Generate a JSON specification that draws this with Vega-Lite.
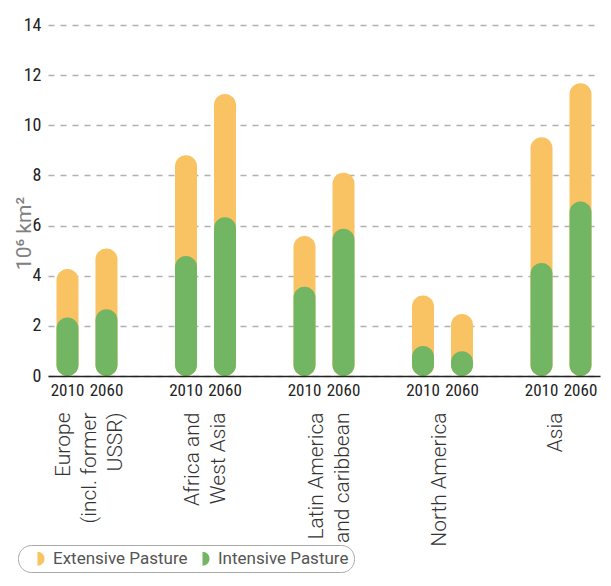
{
  "$schema": "https://vega.github.io/schema/vega-lite/v6.json",
  "width": 552,
  "height": 351,
  "autosize": {"type": "none"},
  "padding": {"left": 48, "top": 25, "right": 11, "bottom": 210},
  "background": "white",
  "config": {"view": {"stroke": null}, "font": "Roboto"},
  "data": {
    "values": [
      {"region": "Europe (incl. former USSR)", "year": "2010", "type": "Extensive Pasture", "value": 4.27},
      {"region": "Europe (incl. former USSR)", "year": "2060", "type": "Extensive Pasture", "value": 5.09},
      {"region": "Africa and West Asia", "year": "2010", "type": "Extensive Pasture", "value": 8.8},
      {"region": "Africa and West Asia", "year": "2060", "type": "Extensive Pasture", "value": 11.25},
      {"region": "Latin America and caribbean", "year": "2010", "type": "Extensive Pasture", "value": 5.58},
      {"region": "Latin America and caribbean", "year": "2060", "type": "Extensive Pasture", "value": 8.11},
      {"region": "North America", "year": "2010", "type": "Extensive Pasture", "value": 3.21},
      {"region": "North America", "year": "2060", "type": "Extensive Pasture", "value": 2.47},
      {"region": "Asia", "year": "2010", "type": "Extensive Pasture", "value": 9.52},
      {"region": "Asia", "year": "2060", "type": "Extensive Pasture", "value": 11.68},
      {"region": "Europe (incl. former USSR)", "year": "2010", "type": "Intensive Pasture", "value": 2.33},
      {"region": "Europe (incl. former USSR)", "year": "2060", "type": "Intensive Pasture", "value": 2.66},
      {"region": "Africa and West Asia", "year": "2010", "type": "Intensive Pasture", "value": 4.79},
      {"region": "Africa and West Asia", "year": "2060", "type": "Intensive Pasture", "value": 6.33},
      {"region": "Latin America and caribbean", "year": "2010", "type": "Intensive Pasture", "value": 3.56},
      {"region": "Latin America and caribbean", "year": "2060", "type": "Intensive Pasture", "value": 5.87},
      {"region": "North America", "year": "2010", "type": "Intensive Pasture", "value": 1.2},
      {"region": "North America", "year": "2060", "type": "Intensive Pasture", "value": 0.99},
      {"region": "Asia", "year": "2010", "type": "Intensive Pasture", "value": 4.51},
      {"region": "Asia", "year": "2060", "type": "Intensive Pasture", "value": 6.96}
    ]
  },
  "encoding": {
    "x": {
      "field": "region",
      "type": "nominal",
      "sort": ["Europe (incl. former USSR)", "Africa and West Asia", "Latin America and caribbean", "North America", "Asia"],
      "scale": {"paddingInner": 0.342, "paddingOuter": 0},
      "axis": {
        "title": null,
        "domainColor": "#222222",
        "domainWidth": 1.5,
        "ticks": false,
        "grid": false,
        "zindex": 1,
        "labelAngle": -90,
        "labelAlign": "right",
        "labelBaseline": "middle",
        "labelPadding": 36,
        "labelFont": "Roboto",
        "labelFontSize": 21,
        "labelFontWeight": 300,
        "labelColor": "#333333",
        "labelLineHeight": 26,
        "labelLimit": 300,
        "labelOffset": {
          "condition": [
            {"test": "datum.value == 'Europe (incl. former USSR)'", "value": -23},
            {"test": "datum.value == 'Africa and West Asia'", "value": -12},
            {"test": "datum.value == 'Latin America and caribbean'", "value": -7},
            {"test": "datum.value == 'North America'", "value": -3}
          ],
          "value": -5
        },
        "labelExpr": "datum.label == 'Europe (incl. former USSR)' ? ['Europe', '(incl. former', 'USSR)'] : datum.label == 'Africa and West Asia' ? ['Africa and', 'West Asia'] : datum.label == 'Latin America and caribbean' ? ['Latin America', 'and caribbean'] : datum.label"
      }
    },
    "xOffset": {"field": "year", "type": "nominal", "scale": {"paddingInner": 0, "paddingOuter": 0}}
  },
  "layer": [
    {
      "mark": {"type": "bar", "width": 22, "cornerRadius": 11},
      "encoding": {
        "y": {
          "field": "value",
          "type": "quantitative",
          "stack": null,
          "scale": {"domain": [0, 14]},
          "axis": {
            "title": "10⁶ km²",
            "values": [0, 2, 4, 6, 8, 10, 12, 14],
            "grid": true,
            "gridDash": [6, 6],
            "gridColor": "#b0b0b0",
            "gridWidth": 1.3,
            "domain": false,
            "ticks": false,
            "labelPadding": 7,
            "labelFont": "Roboto Condensed, Liberation Sans Narrow, DejaVu Sans Condensed, Roboto",
            "labelFontSize": 18,
            "labelColor": "#222222",
            "titleColor": "#808080",
            "titleFont": "Roboto",
            "titleFontSize": 21,
            "titleFontWeight": "normal",
            "titleAngle": -90,
            "titleX": -24,
            "titleY": 208,
            "titleAlign": "center",
            "titleBaseline": "middle"
          }
        },
        "color": {
          "field": "type",
          "type": "nominal",
          "scale": {"domain": ["Extensive Pasture", "Intensive Pasture"], "range": ["#F9C262", "#72B562"]},
          "legend": {
            "orient": "none",
            "legendX": -30,
            "legendY": 520,
            "direction": "horizontal",
            "title": null,
            "symbolType": "M0,-1A1,1 0 0 1 0,1Z",
            "symbolSize": 196,
            "symbolOffset": 6,
            "symbolStrokeWidth": 0,
            "labelFont": "Roboto",
            "labelFontSize": 17,
            "labelColor": "#555555",
            "labelOffset": 7,
            "labelExpr": "datum.label + '\u00a0\u00a0'",
            "columnPadding": -10,
            "strokeColor": "#aaaaaa",
            "fillColor": "white",
            "cornerRadius": 13,
            "padding": 5
          }
        }
      }
    },
    {
      "transform": [{"filter": "datum.type === 'Intensive Pasture'"}],
      "mark": {"type": "text", "baseline": "top", "dy": 7, "font": "Roboto Condensed, Liberation Sans Narrow, DejaVu Sans Condensed, Roboto", "fontSize": 17, "color": "#222222"},
      "encoding": {
        "y": {"datum": 0},
        "text": {"field": "year"}
      }
    }
  ]
}
